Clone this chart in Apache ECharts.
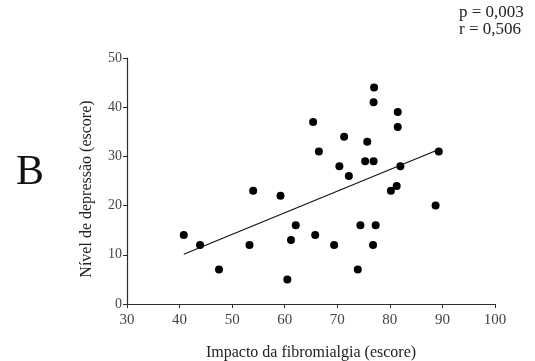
<!DOCTYPE html>
<html>
<head>
<meta charset="utf-8">
<script src="https://cdn.jsdelivr.net/npm/echarts@6/dist/echarts.min.js"></script>
<style>
  html, body { margin: 0; padding: 0; background: #fff; }
  #chart { width: 535px; height: 361px; }
</style>
</head>
<body>
<div id="chart"></div>
<script>
// impacto da fibromialgia (x) e nivel de depressao (y)
var impacto = [40.8, 43.9, 47.5, 53.3, 54.0, 59.2, 60.5, 61.2, 62.1, 65.4, 65.8, 66.5,
    69.4, 70.4, 71.3, 72.2, 73.9, 74.4, 75.7, 75.3, 76.9, 76.8, 77.0, 76.9,
    77.3, 80.2, 81.3, 81.5, 81.5, 82.0, 88.7, 89.3];
var depressao = [14, 12, 7, 12, 23, 22, 5, 13, 16, 37, 14, 31,
    12, 28, 34, 26, 7, 16, 33, 29, 29, 12, 44, 41,
    16, 23, 24, 39, 36, 28, 20, 31];
// reta de regressao (extremos)
var retaX = [40.8, 89.3];
var retaY = [10.1, 31.4];
var xTicks = [30, 40, 50, 60, 70, 80, 90, 100];
var yTicks = [0, 10, 20, 30, 40, 50];

var pontos = impacto.map(function (v, i) { return [v, depressao[i]]; });
var reta = retaX.map(function (v, i) { return [v, retaY[i]]; });

var fonte = 'Liberation Serif';
var corEixo = '#2b2b2b';

var chart = echarts.init(document.getElementById('chart'));
chart.setOption({
    animation: false,
    textStyle: { fontFamily: fonte },
    grid: { left: 127, right: 40, top: 58, bottom: 57, containLabel: false, outerBoundsMode: 'none' },
    graphic: [{
        type: 'text',
        left: 16,
        top: 152,
        style: { text: 'B', font: '42px ' + fonte, fill: '#111' }
    }, {
        type: 'text',
        left: 459,
        top: 4,
        style: {
            text: 'p = 0,003\nr = 0,506',
            font: '17px ' + fonte,
            lineHeight: 17,
            fill: '#222'
        }
    }],
    xAxis: {
        type: 'value',
        min: xTicks[0],
        max: xTicks[xTicks.length - 1],
        interval: 10,
        name: 'Impacto da fibromialgia (escore)',
        nameLocation: 'middle',
        nameGap: 41,
        nameTextStyle: { fontSize: 16, color: '#222', fontFamily: fonte },
        axisLine: { lineStyle: { color: corEixo, width: 1.2 } },
        axisTick: { show: true, length: 4, lineStyle: { color: corEixo } },
        axisLabel: { fontSize: 15, color: '#444', margin: 9, fontFamily: fonte },
        splitLine: { show: false }
    },
    yAxis: {
        type: 'value',
        min: yTicks[0],
        max: yTicks[yTicks.length - 1],
        interval: 10,
        name: 'Nível de depressão (escore)',
        nameLocation: 'middle',
        nameGap: 32,
        nameRotate: 90,
        nameTextStyle: { fontSize: 16, color: '#222', fontFamily: fonte, padding: [0, 16, 0, 0] },
        axisLine: { show: true, lineStyle: { color: corEixo, width: 1.2 } },
        axisTick: { show: true, length: 4, lineStyle: { color: corEixo } },
        axisLabel: { fontSize: 14, color: '#444', margin: 5, fontFamily: fonte },
        splitLine: { show: false }
    },
    series: [{
        name: 'pontos',
        type: 'scatter',
        data: pontos,
        symbolSize: 8,
        itemStyle: { color: '#000', opacity: 1 }
    }, {
        name: 'regressao',
        type: 'line',
        data: reta,
        showSymbol: false,
        symbol: 'none',
        lineStyle: { color: '#111', width: 1.2 }
    }]
});
</script>
</body>
</html>
